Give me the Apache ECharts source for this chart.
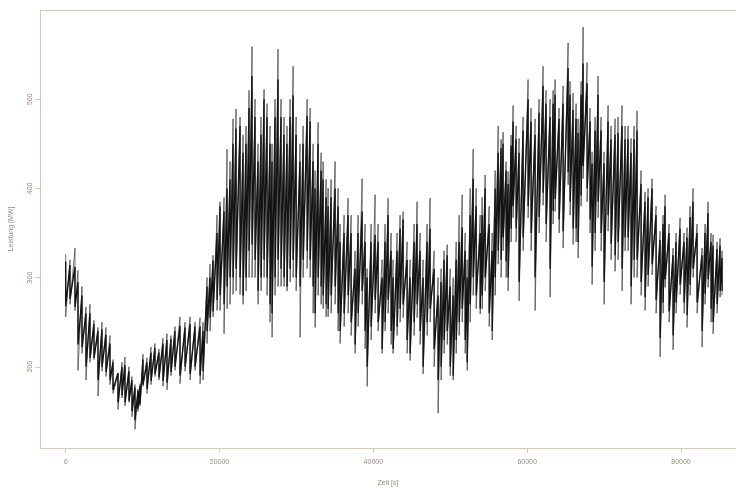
<!DOCTYPE html>
<html>
<head>
<meta charset="utf-8">
<script src="https://cdn.jsdelivr.net/npm/echarts@6/dist/echarts.min.js"></script>
<style>html,body{margin:0;padding:0;background:#fff}#c{width:736px;height:492px}</style>
</head>
<body>
<div id="c"></div>
<script>
// time [s]
const tSec = [0,560,1210,1600,2120,2640,3160,3680,4200,4720,5240,5760,6150,6800,7320,7710,8230,8620,9010,9400,9660,
10050,10570,11090,11610,12130,12650,13170,13690,14210,14860,15520,16170,16820,
17470,17860,18380,18770,19160,19680,20070,20590,20980,21370,21760,22150,22670,23060,23450,23840,24230,24620,25010,25400,25790,26180,26570,26830,
27220,27610,28000,28390,28780,29180,29570,29960,30470,30870,31390,31780,32170,32430,32820,33210,33470,33860,34120,34510,35030,35420,35680,36200,
36720,37110,37630,38020,38540,38930,39190,39710,40230,40620,41140,41530,41920,42310,42570,43090,43480,43870,44390,44780,45300,45690,46080,46470,
46990,47380,47900,48420,48810,49200,49600,49990,50380,50770,51160,51550,51940,52200,52590,52980,53370,53890,54150,54540,55060,55450,55840,56230,
56610,56870,57260,57520,57910,58170,58560,58950,59470,60120,60510,
61030,61550,62070,62460,62980,63370,63630,64150,64670,65320,65580,65970,66360,66620,67010,67270,67790,68180,68440,
68830,69220,69610,70000,70520,70910,71430,71820,72340,72730,73120,73510,73900,74290,74810,75330,75720,76240,76760,
77280,77670,77930,78450,78970,79360,79880,80400,80790,81180,81570,82090,82740,83130,83520,83910,84170,84690,85080,85340];
// spike tips of the trace [MW]
const upper = [326,320,333,308,290,267,270,252,244,250,244,235,208,192,205,211,200,189,180,175,181,
214,210,222,226,220,232,237,235,245,256,250,256,250,
255,250,300,315,325,370,385,390,444,430,478,489,480,460,470,510,559,500,450,480,511,495,470,450,
500,556,500,480,470,500,537,480,450,470,500,490,450,420,474,440,430,410,400,410,430,400,360,370,
389,370,330,370,411,360,310,360,393,360,320,360,389,350,320,350,370,374,340,320,360,385,350,320,
360,389,330,300,310,330,337,310,300,340,370,393,350,320,400,444,400,370,390,415,380,350,420,470,
455,463,430,419,460,493,470,456,480,522,490,
478,500,537,510,500,510,522,490,515,563,520,507,495,478,520,581,541,490,441,
480,526,480,441,493,470,478,480,493,470,470,456,470,487,420,396,400,411,380,
352,370,393,360,333,350,367,350,356,380,400,360,333,360,385,350,348,340,344,330];
const lower = [256,270,263,196,215,185,205,208,167,195,189,180,170,152,165,156,160,144,130,150,156,
178,170,180,189,185,178,174,190,196,181,195,185,196,
181,185,226,240,256,263,263,237,265,270,281,285,281,270,285,300,300,300,270,285,300,280,250,233,
280,290,290,290,285,295,300,285,233,300,310,300,260,244,280,270,265,256,256,260,270,240,226,245,
260,235,215,245,270,220,178,230,260,240,215,240,260,225,215,235,250,255,215,207,235,255,225,192,
235,250,200,148,185,215,225,190,185,215,235,250,215,196,250,280,265,259,265,285,245,230,280,315,
300,330,300,285,340,367,340,274,330,367,330,
263,350,381,340,278,360,374,350,333,404,370,337,340,322,380,411,385,350,292,
330,367,330,270,352,320,307,320,285,330,330,270,300,300,280,263,290,303,260,
211,260,289,250,219,260,281,260,244,280,300,260,222,270,289,250,237,260,278,280];
// dense core of the trace [MW]
const coreHi = [318,314,312,295,280,260,260,248,240,242,236,226,205,193,200,202,195,185,177,173,178,
208,205,216,221,216,226,230,231,240,246,244,248,245,
245,240,290,300,319,350,380,374,400,410,450,467,470,440,450,490,526,480,430,460,500,480,450,430,
480,522,480,460,450,480,504,460,430,450,481,475,430,400,450,420,410,390,380,390,400,380,340,350,
370,350,310,350,374,340,300,340,348,340,300,340,370,330,300,330,355,365,320,300,340,360,330,300,
340,355,310,280,295,320,325,290,280,320,340,356,330,300,370,411,380,350,370,400,360,330,400,440,
445,450,420,405,448,475,455,440,465,500,475,
460,485,515,495,480,495,505,478,495,535,505,488,478,462,505,540,518,475,428,
465,505,465,428,475,455,460,462,470,455,455,440,455,465,405,385,390,400,370,
342,360,380,350,325,340,355,340,345,368,385,350,325,350,372,340,336,332,336,322];
const coreLo = [268,276,267,225,222,200,210,210,185,200,194,185,174,160,168,160,162,150,140,153,158,
180,175,184,192,188,184,182,194,200,190,200,192,200,
190,195,240,255,262,275,280,270,290,300,300,310,300,280,300,330,337,320,285,300,320,300,270,260,
300,320,310,300,290,310,320,300,290,320,330,320,290,260,300,290,280,270,265,280,290,260,240,260,
280,250,225,260,285,240,200,245,275,250,220,250,275,240,220,245,265,270,230,215,250,270,240,200,
250,265,220,185,200,230,240,200,190,230,250,265,230,205,270,300,280,265,280,300,260,240,300,330,
320,345,318,300,355,380,355,295,345,380,350,
300,368,395,360,310,375,388,365,352,418,385,355,355,340,392,425,400,365,312,
350,385,350,295,370,338,325,340,310,345,345,290,320,320,295,278,303,315,275,
232,272,298,262,235,272,292,272,258,292,310,272,240,282,298,265,250,270,285,285];
// axis ticks
const xTicks = [0,20000,40000,60000,80000];
const yTicks = [200,300,400,500];

const spikes = [], core = [];
for (let i = 0; i < tSec.length; i++) {
  spikes.push([tSec[i], upper[i]], [tSec[i], lower[i]]);
  core.push([tSec[i], coreHi[i]], [tSec[i], coreLo[i]]);
}

const axisCol = '#d6c8ba';
const txtCol = '#9a8c82';
const xMin = -3340, xMax = 87150;
const chart = echarts.init(document.getElementById('c'), null, {renderer: 'canvas'});
const xLabel = {show: true, customValues: xTicks, color: txtCol, fontSize: 7, margin: 11,
  fontFamily: 'Liberation Sans Narrow, Liberation Sans', formatter: v => String(v)};
chart.setOption({
  animation: false,
  backgroundColor: '#ffffff',
  grid: {left: 40, right: 0, top: 10, bottom: 40, show: false},
  xAxis: [{
    type: 'value', min: xMin, max: xMax, position: 'bottom',
    name: 'Zeit [s]', nameLocation: 'middle', nameGap: 32,
    nameTextStyle: {color: txtCol, fontSize: 7, fontFamily: 'Liberation Sans'},
    axisLine: {show: true, onZero: false, lineStyle: {color: axisCol}},
    axisTick: {show: true, length: 5, customValues: xTicks, lineStyle: {color: axisCol}},
    axisLabel: xLabel,
    splitLine: {show: false}
  }, {
    type: 'value', min: xMin, max: xMax, position: 'top',
    axisLine: {show: true, onZero: false, lineStyle: {color: axisCol}},
    axisTick: {show: false}, axisLabel: {show: false}, splitLine: {show: false}
  }],
  yAxis: {
    type: 'value', min: 108.9, max: 600,
    name: 'Leistung [MW]', nameLocation: 'middle', nameGap: 25, nameRotate: 90,
    nameTextStyle: {color: txtCol, fontSize: 7, fontFamily: 'Liberation Sans'},
    axisLine: {show: true, onZero: false, lineStyle: {color: axisCol}},
    axisTick: {show: true, length: 5, customValues: yTicks, lineStyle: {color: axisCol}},
    axisLabel: {show: true, customValues: yTicks, rotate: 90, color: txtCol, fontSize: 7, margin: 6,
      fontFamily: 'Liberation Sans Narrow, Liberation Sans'},
    splitLine: {show: false}
  },
  series: [{
    type: 'line', data: spikes, showSymbol: false, symbol: 'none',
    lineStyle: {color: '#3a3a3a', width: 0.7}, sampling: 'none'
  }, {
    type: 'line', data: core, showSymbol: false, symbol: 'none',
    lineStyle: {color: '#141414', width: 1.4}, sampling: 'none'
  }]
});
</script>
</body>
</html>
